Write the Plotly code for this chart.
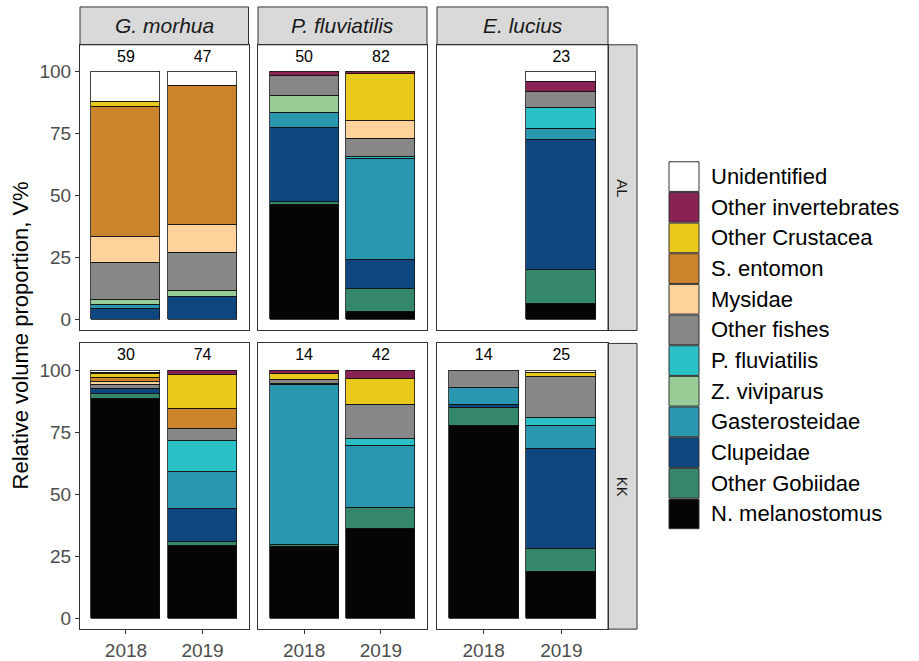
import plotly.graph_objects as go

# Prey categories in stacking order (bottom -> top) and their fill colours
prey = ["N. melanostomus", "Other Gobiidae", "Clupeidae", "Gasterosteidae",
        "Z. viviparus", "P. fluviatilis", "Other fishes", "Mysidae",
        "S. entomon", "Other Crustacea", "Other invertebrates", "Unidentified"]
prey_colors = ["#050505", "#35876C", "#0E477F", "#2A96B0",
               "#98CD97", "#2BBFC6", "#878787", "#FED29A",
               "#CC842C", "#E9C91B", "#882255", "#FFFFFF"]

predators = ["G. morhua", "P. fluviatilis", "E. lucius"]
sites = ["AL", "KK"]
years = ["2018", "2019"]

# Relative volume proportion (V%) per prey, in the order of `prey`
al_gmorhua_2018 = [0, 0, 4.2, 1.6, 2.0, 0, 15.0, 10.6, 52.3, 2.0, 0, 12.3]
al_gmorhua_2019 = [0, 0, 9.1, 0, 2.7, 0, 15.0, 11.4, 56.0, 0, 0, 5.8]
al_pfluv_2018 = [46.4, 1.0, 29.8, 6.2, 6.7, 0, 8.4, 0, 0, 0, 1.5, 0]
al_pfluv_2019 = [3.1, 9.4, 11.7, 40.6, 0, 1.0, 7.0, 7.4, 0, 19.0, 0.8, 0]
al_elucius_2018 = [0, 0, 0, 0, 0, 0, 0, 0, 0, 0, 0, 0]
al_elucius_2019 = [6.4, 13.8, 52.3, 4.6, 0, 8.4, 6.4, 0, 0, 0, 4.0, 4.1]
kk_gmorhua_2018 = [88.6, 2.0, 1.9, 0, 0, 0, 1.7, 1.3, 1.4, 1.7, 0.5, 0.9]
kk_gmorhua_2019 = [29.5, 1.5, 13.3, 14.9, 0, 12.3, 5.0, 0, 8.0, 13.8, 1.7, 0]
kk_pfluv_2018 = [28.8, 1.0, 0, 64.6, 0.4, 0, 1.5, 0, 0, 2.3, 1.4, 0]
kk_pfluv_2019 = [36.3, 8.3, 0, 25.2, 0, 2.5, 13.8, 0, 0, 10.5, 3.4, 0]
kk_elucius_2018 = [77.9, 7.0, 1.3, 6.7, 0, 0, 7.1, 0, 0, 0, 0, 0]
kk_elucius_2019 = [18.9, 9.2, 40.2, 9.4, 0, 3.4, 16.5, 0, 0, 1.6, 0, 0.8]

# Number of stomachs analysed (None = no sample)
al_counts = [[59, 47], [50, 82], [None, 23]]
kk_counts = [[30, 74], [14, 42], [14, 25]]

panel_values = {
    ("AL", 0): (al_gmorhua_2018, al_gmorhua_2019),
    ("AL", 1): (al_pfluv_2018, al_pfluv_2019),
    ("AL", 2): (al_elucius_2018, al_elucius_2019),
    ("KK", 0): (kk_gmorhua_2018, kk_gmorhua_2019),
    ("KK", 1): (kk_pfluv_2018, kk_pfluv_2019),
    ("KK", 2): (kk_elucius_2018, kk_elucius_2019),
}
panel_counts = {"AL": al_counts, "KK": kk_counts}

W, H = 919, 661


def fx(px):
    return px / W


def fy(py):
    return 1 - py / H


col_px = [(80, 248.5), (258, 427), (437, 608)]
row_px = [(45, 332), (345, 632)]
strip_top = 7
strip_right = 637

FONT = "Liberation Sans, Arial, sans-serif"
TICK_COLOR = "#4D4D4D"
LINE_COLOR = "#333333"

fig = go.Figure()
layout_axes = {}

for r, site in enumerate(sites):
    for c in range(len(predators)):
        idx = r * 3 + c + 1
        xa = "x" if idx == 1 else f"x{idx}"
        ya = "y" if idx == 1 else f"y{idx}"
        v2018, v2019 = panel_values[(site, c)]
        for k, name in enumerate(prey):
            vals = [v2018[k], v2019[k]]
            yv = [v if v > 0 else None for v in vals]
            fig.add_trace(go.Bar(
                x=years, y=yv, name=name, xaxis=xa, yaxis=ya,
                marker=dict(color=prey_colors[k],
                            line=dict(color="#111111", width=0.8)),
                width=0.9, showlegend=False, hoverinfo="x+y+name",
            ))
        counts = panel_counts[site][c]
        cx = [y for y, n in zip(years, counts) if n is not None]
        ct = [str(n) for n in counts if n is not None]
        fig.add_trace(go.Scatter(
            x=cx, y=[105.6] * len(cx), text=ct, mode="text",
            textfont=dict(size=16, color="black", family=FONT),
            xaxis=xa, yaxis=ya, showlegend=False, hoverinfo="skip",
        ))

        x0, x1 = col_px[c]
        y0, y1 = row_px[r]
        xkey = "xaxis" if idx == 1 else f"xaxis{idx}"
        ykey = "yaxis" if idx == 1 else f"yaxis{idx}"
        layout_axes[xkey] = dict(
            domain=[fx(x0), fx(x1)], anchor=ya,
            type="category", categoryorder="array", categoryarray=years,
            range=[-0.6, 1.6], showgrid=False, zeroline=False,
            showline=True, mirror=True, linecolor=LINE_COLOR, linewidth=1,
            ticks="outside" if r == 1 else "", ticklen=4, tickcolor=LINE_COLOR,
            showticklabels=(r == 1),
            tickfont=dict(size=19, color=TICK_COLOR, family=FONT),
            fixedrange=True,
        )
        layout_axes[ykey] = dict(
            domain=[fy(y1), fy(y0)], anchor=xa,
            range=[-4.4, 110.8], showgrid=False, zeroline=False,
            showline=True, mirror=True, linecolor=LINE_COLOR, linewidth=1,
            tickvals=[0, 25, 50, 75, 100],
            ticks="outside" if c == 0 else "", ticklen=4, tickcolor=LINE_COLOR,
            showticklabels=(c == 0),
            tickfont=dict(size=19, color=TICK_COLOR, family=FONT),
            fixedrange=True,
        )

shapes = []
annotations = []

# Facet strips across the top (predator names)
for c, pred in enumerate(predators):
    x0, x1 = col_px[c]
    shapes.append(dict(type="rect", xref="paper", yref="paper",
                       x0=fx(x0), x1=fx(x1), y0=fy(row_px[0][0]), y1=fy(strip_top),
                       fillcolor="#D9D9D9", line=dict(color=LINE_COLOR, width=1),
                       layer="below"))
    annotations.append(dict(xref="paper", yref="paper",
                            x=fx((x0 + x1) / 2), y=fy((strip_top + row_px[0][0]) / 2),
                            xanchor="center", yanchor="middle",
                            text=f"<i>{pred}</i>", showarrow=False,
                            font=dict(size=21, color="#1A1A1A", family=FONT)))

# Facet strips on the right (sites)
for r, site in enumerate(sites):
    y0, y1 = row_px[r]
    shapes.append(dict(type="rect", xref="paper", yref="paper",
                       x0=fx(col_px[2][1]), x1=fx(strip_right), y0=fy(y1), y1=fy(y0),
                       fillcolor="#D9D9D9", line=dict(color=LINE_COLOR, width=1),
                       layer="below"))
    annotations.append(dict(xref="paper", yref="paper",
                            x=fx((col_px[2][1] + strip_right) / 2), y=fy((y0 + y1) / 2),
                            xanchor="center", yanchor="middle",
                            text=site, textangle=90, showarrow=False,
                            font=dict(size=15, color="#1A1A1A", family=FONT)))

# Y axis title
annotations.append(dict(xref="paper", yref="paper", x=fx(20), y=fy(337),
                        xanchor="center", yanchor="middle",
                        text="Relative volume proportion, V%", textangle=-90,
                        showarrow=False,
                        font=dict(size=22, color="black", family=FONT)))

# Legend (top entry = top of stack)
key_x0, key_x1 = 669, 699
key_top, key_step = 162, 30.8
for i, k in enumerate(reversed(range(len(prey)))):
    ky0 = key_top + i * key_step
    ky1 = ky0 + key_step
    shapes.append(dict(type="rect", xref="paper", yref="paper",
                       x0=fx(key_x0), x1=fx(key_x1), y0=fy(ky1 - 0.5), y1=fy(ky0 + 0.5),
                       fillcolor=prey_colors[k], line=dict(color=LINE_COLOR, width=1)))
    annotations.append(dict(xref="paper", yref="paper", x=fx(709), y=fy((ky0 + ky1) / 2),
                            xanchor="left", yanchor="middle", text=prey[k],
                            showarrow=False,
                            font=dict(size=22, color="black", family=FONT)))

fig.update_layout(
    width=W, height=H,
    margin=dict(l=0, r=0, t=0, b=0),
    paper_bgcolor="white", plot_bgcolor="white",
    barmode="stack", bargap=0,
    showlegend=False,
    shapes=shapes, annotations=annotations,
    font=dict(family=FONT),
    **layout_axes,
)

fig.write_html("out.html")
